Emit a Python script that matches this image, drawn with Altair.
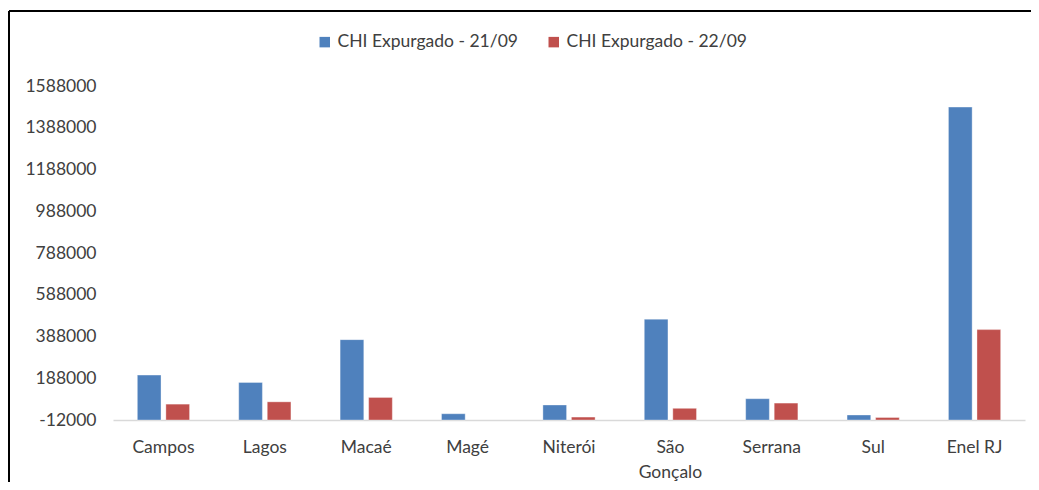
import altair as alt
import pandas as pd

categories = ["Campos", "Lagos", "Macaé", "Magé", "Niterói", "São Gonçalo", "Serrana", "Sul", "Enel RJ"]
series_names = ["CHI Expurgado - 21/09", "CHI Expurgado - 22/09"]
chi_2109 = [203000, 168000, 373000, 18000, 60000, 471000, 90000, 12000, 1487000]
chi_2209 = [64000, 75000, 96000, None, 2000, 44000, 69000, 0, 421000]
y_ticks = [-12000, 188000, 388000, 588000, 788000, 988000, 1188000, 1388000, 1588000]
colors = ["#4F81BD", "#C0504D"]

rows = []
for c, a, b in zip(categories, chi_2109, chi_2209):
    rows.append({"cat": c, "serie": series_names[0], "val": a})
    rows.append({"cat": c, "serie": series_names[1], "val": b})
df = pd.DataFrame(rows)
df = df[df["val"].notna()]

FONT = "Lato"
TXT = "#404040"

bars = alt.Chart(df).mark_bar(stroke="#ffffff", strokeOpacity=0.35, strokeWidth=1).encode(
    x=alt.X("cat:N", sort=categories, title=None,
            scale=alt.Scale(paddingInner=0.485, paddingOuter=0.24),
            axis=alt.Axis(labelAngle=0, ticks=False, domainColor="#d9d9d9", domainWidth=1.5,
                          labelPadding=18, labelFontSize=17.5, labelFont=FONT, labelColor=TXT,
                          labelLineHeight=25,
                          labelExpr="datum.value == 'São Gonçalo' ? ['São', 'Gonçalo'] : datum.value")),
    xOffset=alt.XOffset("serie:N", sort=series_names, scale=alt.Scale(paddingInner=0.17, paddingOuter=0)),
    y=alt.Y("val:Q", title=None,
            scale=alt.Scale(domain=[y_ticks[0], y_ticks[-1]], nice=False, zero=False),
            axis=alt.Axis(values=y_ticks, format="d", grid=False, domain=False, ticks=False,
                          labelExpr="replace(datum.label, '\u2212', '-')",
                          labelPadding=17, labelFontSize=17.5, labelFont=FONT, labelColor=TXT)),
    y2=alt.datum(y_ticks[0]),
    color=alt.Color("serie:N", sort=series_names,
                    scale=alt.Scale(domain=series_names, range=colors),
                    legend=alt.Legend(title=None, orient="none", direction="horizontal",
                                      legendX=203, legendY=-53, symbolType="square",
                                      symbolSize=110, symbolStrokeWidth=0, labelOffset=4,
                                      columnPadding=27, labelFontSize=17.5, labelFont=FONT,
                                      labelColor=TXT, labelLimit=400)),
)

frame_left = alt.Chart(df).mark_rule(color="#000000", strokeWidth=1.5).encode(
    x=alt.value(-104), y=alt.value(-75), y2=alt.value(440))
frame_top = alt.Chart(df).mark_rule(color="#000000", strokeWidth=1.5).encode(
    x=alt.value(-104), x2=alt.value(940), y=alt.value(-75))

chart = alt.layer(bars, frame_left, frame_top).properties(
    width=912, height=334,
    background="#ffffff",
    autosize=alt.AutoSizeParams(type="none"),
    padding={"left": 105, "top": 78, "right": 6, "bottom": 62},
).configure_view(stroke=None)

chart.save("out.html", embed_options={"renderer": "svg", "actions": False})
